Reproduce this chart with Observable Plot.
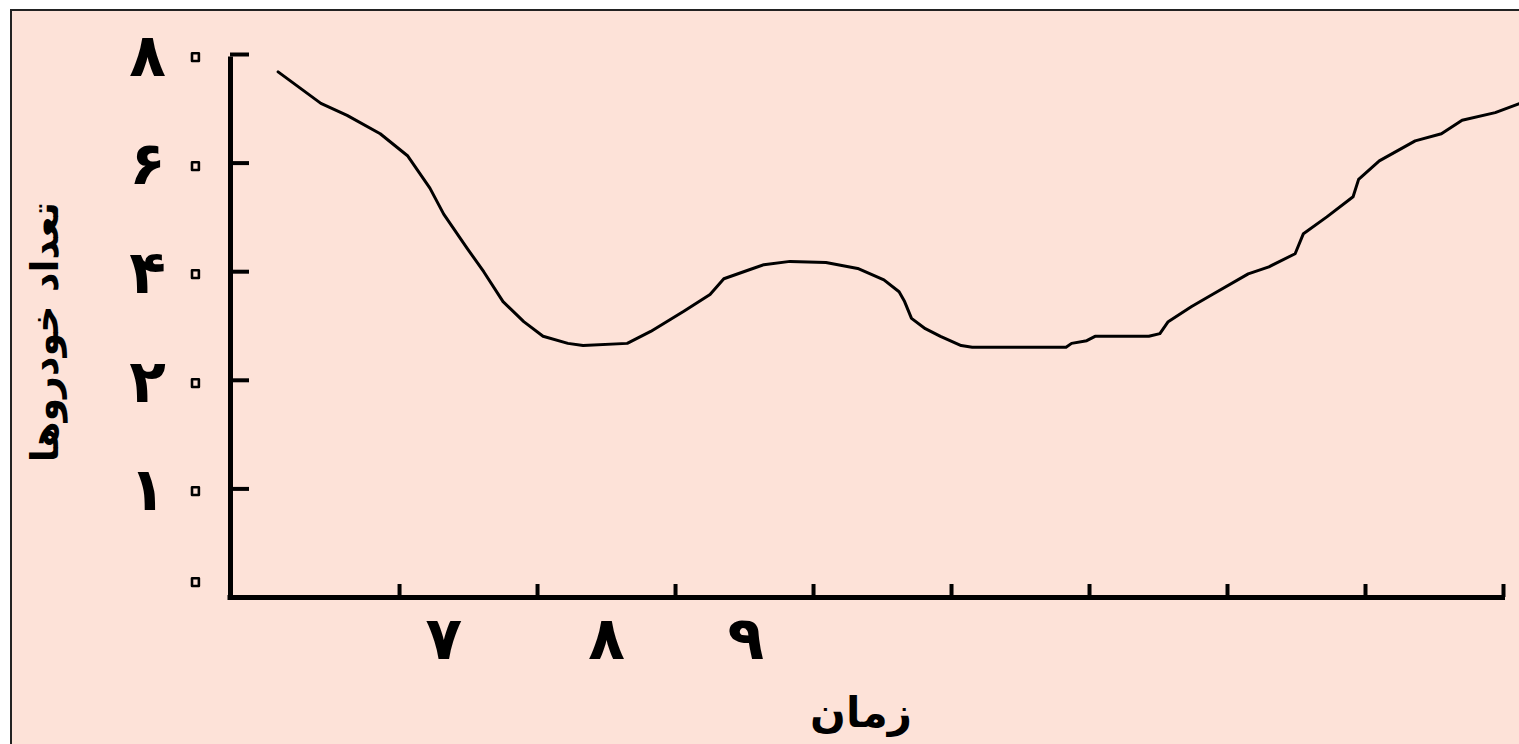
<!DOCTYPE html>
<html>
<head>
<meta charset="utf-8">
<script src="https://cdn.jsdelivr.net/npm/d3@7"></script>
<script src="https://cdn.jsdelivr.net/npm/@observablehq/plot@0.6"></script>
<style>
  html, body { margin: 0; padding: 0; background: #ffffff; overflow: hidden; width: 1519px; height: 744px; }
  #frame { position: absolute; left: 10px; top: 9px; width: 1560px; height: 780px; border: 2px solid #222; background: #fde2d8; overflow: hidden; }
  #chart { position: absolute; left: 0; top: 0; }
</style>
</head>
<body>
<div id="frame"><div id="chart"></div></div>
<script>
// ---- data ----
const timeHours = [5.62, 5.78, 5.93, 6.12, 6.36, 6.56, 6.72, 6.82, 6.99, 7.11, 7.25, 7.40, 7.54, 7.72, 7.83, 8.15, 8.32, 8.56, 8.75, 8.85, 9.04, 9.14, 9.33, 9.59, 9.82, 10.01, 10.12, 10.16, 10.21, 10.31, 10.42, 10.57, 10.65, 11.33, 11.37, 11.48, 11.54, 11.93, 12.01, 12.07, 12.24, 12.39, 12.65, 12.80, 12.99, 13.05, 13.22, 13.41, 13.45, 13.60, 13.86, 14.05, 14.20, 14.44, 14.62];
const carCount  = [76.8, 73.8, 71.0, 68.8, 65.4, 61.3, 55.4, 50.6, 44.3, 40.0, 34.5, 30.8, 28.1, 26.8, 26.4, 26.8, 29.0, 32.7, 35.8, 38.7, 40.4, 41.3, 41.9, 41.7, 40.6, 38.5, 36.3, 34.5, 31.4, 29.5, 28.1, 26.4, 26.1, 26.1, 26.8, 27.3, 28.1, 28.1, 28.6, 30.8, 33.6, 35.8, 39.6, 40.9, 43.3, 47.0, 50.1, 53.8, 57.0, 60.4, 64.1, 65.4, 67.9, 69.3, 71.0];

const yTickVals   = [0, 10, 20, 40, 60, 80];
const yTickLabels = ["۰", "۱۰", "۲۰", "۴۰", "۶۰", "۸۰"];
const xTickVals   = [6.5, 7.5, 8.5, 9.5, 10.5, 11.5, 12.5, 13.5, 14.5];
const xLabels     = ["۷", "۸", "۹"];
const xLabelPos   = [6.82, 8.0, 9.01];
const xTitle = "زمان";
const yTitle = "تعداد خودروها";

// ---- build ----
const series = timeHours.map((t, i) => ({t, n: carCount[i]}));
const xMin = 5.275, xMax = 14.5;
// the value axis is evenly spaced by tick (0,10,20,40,60,80): piecewise transform to tick index
const toIndex = d3.scaleLinear().domain(yTickVals).range(yTickVals.map((_, i) => i));
const yTicksInner = yTickVals.filter(v => v > 0);
const yLabelRows = yTickLabels.map((s, i) => ({v: yTickVals[i], digit: s.slice(0, -1), zero: s.slice(-1)}));
const font = "DejaVu Sans";

const W = 1507, H = 733;
const zeroStyle = {fontSize: 64, fontWeight: "normal", fill: "none", stroke: "black", strokeWidth: 2.6, strokeLinejoin: "round", textAnchor: "middle", lineAnchor: "middle"};
const chart = Plot.plot({
  width: W,
  height: H,
  marginLeft: 218,
  marginRight: W - 1491,
  marginTop: 43,
  marginBottom: H - 586,
  style: {background: "transparent", fontFamily: font, overflow: "visible"},
  x: {domain: [xMin, xMax], axis: null},
  y: {domain: [0, yTickVals.length - 1], transform: toIndex, axis: null},
  marks: [
    // axis lines
    Plot.ruleX([xMin], {y1: 0, y2: 80, stroke: "black", strokeWidth: 5, insetBottom: -2.5}),
    Plot.ruleY([0], {x1: xMin, x2: xMax, stroke: "black", strokeWidth: 5, insetLeft: -2.5, insetRight: -2}),
    // y ticks (inward)
    Plot.ruleY(yTicksInner, {y: d => d, x1: xMin, x2: xMin, insetRight: -19, stroke: "black", strokeWidth: 4}),
    // x ticks (upward)
    Plot.ruleX(xTickVals, {x: d => d, y1: 0, y2: 0, insetTop: -13, stroke: "black", strokeWidth: 4}),
    // y tick labels: digit + small zero
    Plot.text(yLabelRows.filter(d => d.digit), {x: xMin, y: "v", text: "digit", dx: -83, dy: 2, fontSize: 60, fontWeight: "bold", fill: "black", textAnchor: "middle", lineAnchor: "middle"}),
    Plot.text(yLabelRows.filter(d => d.v > 0), {x: xMin, y: "v", text: "zero", dx: -35, dy: 0, ...zeroStyle}),
    Plot.text(yLabelRows.filter(d => d.v === 0), {x: xMin, y: "v", text: "zero", dx: -35, dy: -18, ...zeroStyle}),
    // x tick labels
    Plot.text(xLabels, {x: (d, i) => xLabelPos[i], y: 0, text: d => d, dy: 42, fontSize: 60, fontWeight: "bold", fill: "black", textAnchor: "middle", lineAnchor: "middle"}),
    // titles
    Plot.text([xTitle], {frameAnchor: "bottom", text: d => d, dx: -6, dy: 116, fontSize: 42, fontWeight: "bold", fill: "black", textAnchor: "middle", lineAnchor: "middle"}),
    Plot.text([yTitle], {frameAnchor: "left", text: d => d, dx: -185, dy: 6, rotate: -90, fontSize: 38, fontWeight: "bold", fill: "black", textAnchor: "middle", lineAnchor: "middle"}),
    // data line
    Plot.line(series, {x: "t", y: "n", stroke: "black", strokeWidth: 3, curve: "linear"})
  ]
});
document.getElementById("chart").appendChild(chart);
</script>
</body>
</html>
